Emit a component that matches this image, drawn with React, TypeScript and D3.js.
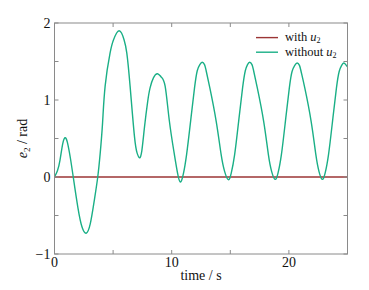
import React from "react";
import * as d3 from "d3";

const timesNoU2: number[] = [
  0, 0.25, 0.47, 0.7, 0.9, 1.1, 1.35, 1.6, 2.0, 2.35, 2.7, 3.05, 3.4, 3.69, 3.9, 4.1, 4.32, 4.74, 5.03, 5.3, 5.51, 5.72, 5.94, 6.17, 6.45, 6.82, 7.05, 7.25,
  7.45, 7.68, 7.95, 8.16, 8.45, 8.79, 9.1, 9.44, 9.79, 10.21, 10.5, 10.73,
  10.98, 11.27, 11.61, 11.95, 12.18, 12.4, 12.6,
  12.8, 12.94, 13.25, 13.8, 14.22, 14.52, 14.83,
  15.08, 15.37, 15.71, 16.05, 16.28, 16.47, 16.65,
  16.85, 16.99, 17.3, 17.85, 18.25, 18.53, 18.82,
  19.07, 19.36, 19.7, 20.04, 20.27, 20.5, 20.7,
  20.9, 21.04, 21.35, 21.9, 22.3, 22.57, 22.84,
  23.09, 23.38, 23.72, 24.06, 24.29, 24.5, 24.68, 24.85, 25.0,
];
const valuesNoU2: number[] = [
  0, 0.08, 0.22, 0.43, 0.51, 0.45, 0.25, 0.0, -0.4, -0.65, -0.73, -0.61, -0.3, 0.0, 0.31, 0.7, 1.18, 1.61, 1.78, 1.87, 1.9, 1.87, 1.78, 1.61, 1.18, 0.53, 0.31, 0.25,
  0.34, 0.65, 0.98, 1.16, 1.29, 1.34, 1.3, 1.18, 0.74, 0.31, 0.05, -0.065,
  0.03, 0.29, 0.72, 1.16, 1.38, 1.46, 1.49,
  1.46, 1.38, 1.16, 0.72, 0.29, 0.07, -0.035,
  0.05, 0.29, 0.72, 1.16, 1.38, 1.46, 1.49,
  1.46, 1.38, 1.16, 0.72, 0.29, 0.07, -0.03,
  0.05, 0.29, 0.72, 1.16, 1.37, 1.45, 1.48,
  1.45, 1.37, 1.16, 0.72, 0.29, 0.07, -0.03,
  0.05, 0.29, 0.72, 1.16, 1.37, 1.45, 1.48, 1.46, 1.43,
];
const timesWithU2: number[] = [0, 25];
const valuesWithU2: number[] = [0, 0];

const xMajorTicks = [0, 10, 20];
const xMinorTicks = [5, 15, 25];
const yMajorTicks = [-1, 0, 1, 2];
const yMinorTicks = [-0.5, 0.5, 1.5];

const W = 369;
const H = 290;
const M = { left: 54.5, right: 347.5, top: 23, bottom: 254 };
const GREEN = "#1aaf86";
const RED = "#9b3535";
const FONT = "Liberation Serif";
const TXT: React.CSSProperties = { fontFamily: FONT };

export default function App() {
  const x = d3.scaleLinear().domain([0, 25]).range([M.left, M.right]);
  const y = d3.scaleLinear().domain([-1, 2]).range([M.bottom, M.top]);
  const line = d3
    .line<[number, number]>()
    .x((d) => x(d[0]))
    .y((d) => y(d[1]))
    .curve(d3.curveNatural);
  const dNo = line(timesNoU2.map((t, i) => [t, valuesNoU2[i]] as [number, number])) || "";
  const dWith = line(timesWithU2.map((t, i) => [t, valuesWithU2[i]] as [number, number])) || "";
  const tk = 4;
  const axisColor = "#8a8a8a";
  const allX = [...xMajorTicks, ...xMinorTicks];
  const allY = [...yMajorTicks, ...yMinorTicks];
  return (
    <svg width={W} height={H} style={{ position: "absolute", left: 0, top: 0, background: "#fff" }}>
      <defs>
        <clipPath id="plotclip">
          <rect x={M.left} y={M.top} width={M.right - M.left} height={M.bottom - M.top} />
        </clipPath>
      </defs>
      <g clipPath="url(#plotclip)">
        <path d={dWith} fill="none" stroke={RED} strokeWidth={1.4} />
        <path d={dNo} fill="none" stroke={GREEN} strokeWidth={1.4} />
      </g>
      <rect x={M.left} y={M.top} width={M.right - M.left} height={M.bottom - M.top} fill="none" stroke={axisColor} strokeWidth={1} />
      {allX.map((t) => (
        <g key={"x" + t}>
          <line x1={x(t)} x2={x(t)} y1={M.bottom} y2={M.bottom - tk} stroke={axisColor} />
          <line x1={x(t)} x2={x(t)} y1={M.top} y2={M.top + tk} stroke={axisColor} />
        </g>
      ))}
      {allY.map((v) => (
        <g key={"y" + v}>
          <line x1={M.left} x2={M.left + tk} y1={y(v)} y2={y(v)} stroke={axisColor} />
          <line x1={M.right} x2={M.right - tk} y1={y(v)} y2={y(v)} stroke={axisColor} />
        </g>
      ))}
      {xMajorTicks.map((t) => (
        <text key={"xl" + t} style={TXT} x={x(t)} y={M.bottom + 13} textAnchor="middle" fontSize={14} fill="#111">
          {t}
        </text>
      ))}
      {yMajorTicks.map((v) => (
        <text key={"yl" + v} style={TXT} x={M.left - 4} y={y(v) + 4.5} textAnchor="end" fontSize={14} fill="#111">
          {v < 0 ? "\u2212" + Math.abs(v) : v}
        </text>
      ))}
      <text style={TXT} x={(M.left + M.right) / 2} y={280} textAnchor="middle" fontSize={14} fill="#111">
        time / s
      </text>
      <text style={TXT} transform={`translate(27, ${(M.top + M.bottom) / 2}) rotate(-90)`} textAnchor="middle" fontSize={14} fill="#111">
        <tspan fontStyle="italic">e</tspan>
        <tspan fontSize={9} dy={3}>2</tspan>
        <tspan dy={-3}> / rad</tspan>
      </text>
      <g>
        <line x1={256} x2={278} y1={37.6} y2={37.6} stroke={RED} strokeWidth={1.4} />
        <text style={TXT} x={285} y={41.4} fontSize={12.5} fill="#111">
          with <tspan fontStyle="italic">u</tspan>
          <tspan fontSize={8} dy={1.5}>2</tspan>
        </text>
        <line x1={256} x2={278} y1={52.2} y2={52.2} stroke={GREEN} strokeWidth={1.4} />
        <text style={TXT} x={285} y={56.3} fontSize={12.5} fill="#111">
          without <tspan fontStyle="italic">u</tspan>
          <tspan fontSize={8} dy={1.5}>2</tspan>
        </text>
      </g>
    </svg>
  );
}
